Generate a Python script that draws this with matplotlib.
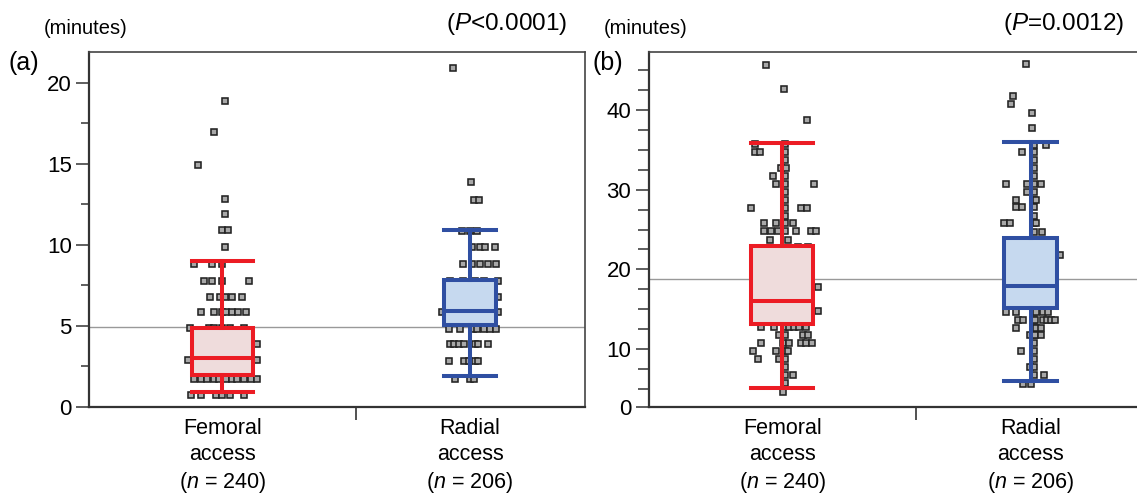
import matplotlib
matplotlib.use("Agg")
import matplotlib.pyplot as plt
from matplotlib.ticker import MultipleLocator

plt.rcParams["font.family"] = ["Liberation Sans", "DejaVu Sans"]
plt.rcParams["mathtext.fontset"] = "custom"
plt.rcParams["mathtext.rm"] = "Liberation Sans"
plt.rcParams["mathtext.it"] = "Liberation Sans:italic"

# groups, x axis is proportional to group size (JMP style)
groups = ["Femoral\naccess", "Radial\naccess"]
group_n = [240, 206]

# each row: (value, [x jitter as fraction of the group width])
a_femoral_rows = [
    (18.9, [0.01]), (16.95, [-0.03]), (14.95, [-0.09]), (12.85, [0.01]),
    (11.9, [0.01]), (10.9, [0.0, 0.02]), (9.85, [0.01]),
    (8.85, [-0.105, -0.04, 0.0]),
    (7.75, [-0.07, -0.04, 0.0, 0.1]),
    (6.8, [-0.045, -0.01, 0.01, 0.035, 0.075]),
    (5.85, [-0.08, -0.03, 0.0, 0.015, 0.035, 0.06, 0.09]),
    (4.85, [-0.12, -0.05, -0.03, 0.0, 0.03, 0.08]),
    (3.9, [-0.09, -0.03, 0.03, 0.13]),
    (2.9, [-0.13, -0.07, -0.01, 0.06, 0.13]),
    (1.75, [-0.105, -0.08, -0.056, -0.03, -0.011, 0.015, 0.037, 0.056, 0.082, 0.109, 0.131]),
    (0.75, [-0.116, -0.079, -0.022, 0.0, 0.03, 0.082]),
]
a_radial_rows = [
    (20.9, [-0.075]), (13.9, [0.005]), (12.8, [0.018, 0.04]),
    (10.85, [-0.035, 0.0, 0.03]),
    (9.85, [0.01, 0.044, 0.066, 0.109]),
    (8.85, [-0.03, 0.01, 0.044, 0.079, 0.114]),
    (7.75, [-0.088, -0.03, 0.02, 0.06, 0.12]),
    (6.8, [-0.07, 0.0, 0.05, 0.12]),
    (5.85, [-0.123, -0.05, 0.03, 0.12]),
    (4.8, [-0.093, -0.044, 0.013, 0.031, 0.06, 0.086, 0.114]),
    (3.9, [-0.088, -0.07, -0.05, -0.028, 0.022, 0.034, 0.078]),
    (2.85, [-0.093, -0.028, -0.006, 0.022, 0.034]),
    (1.7, [-0.066, -0.001, 0.017]),
]
b_femoral_rows = [
    (45.7, [-0.062]), (42.7, [0.005]), (38.7, [0.093]),
    (35.75, [-0.1, 0.011]), (34.8, [-0.1, -0.082, 0.011]), (33.75, [0.011]),
    (32.75, [-0.004, 0.015]), (31.75, [-0.033, 0.011]),
    (30.75, [-0.025, 0.011, 0.117]), (29.75, [0.011]), (28.75, [0.011]),
    (27.7, [-0.116, 0.011, 0.071, 0.093]), (26.75, [0.011]),
    (25.8, [-0.07, -0.025, 0.011, 0.042]),
    (24.8, [-0.07, -0.041, -0.016, 0.011, 0.05, 0.108, 0.127]),
    (23.7, [-0.047, 0.021]), (22.8, [0.059, 0.096]),
    (17.8, [0.133]), (14.8, [0.133]),
    (12.8, [-0.079, -0.029, 0.009, 0.027, 0.045, 0.064, 0.09]),
    (11.8, [-0.012, 0.011, 0.077, 0.096]),
    (10.7, [-0.079, 0.003, 0.027, 0.071, 0.09, 0.112]),
    (9.75, [-0.11, -0.025, 0.011, 0.021]),
    (8.75, [-0.091, -0.012, 0.009]),
    (7.8, [0.012]), (6.75, [0.011, 0.042]), (5.75, [0.011]), (4.65, [0.003]),
]
b_radial_rows = [
    (45.8, [-0.02]), (41.75, [-0.078]), (40.75, [-0.088]),
    (39.7, [0.007]), (37.8, [0.007]),
    (35.6, [0.012, 0.068]), (34.8, [-0.037, 0.012]),
    (33.75, [0.012]), (32.75, [0.012]), (31.75, [0.012]),
    (30.7, [-0.107, -0.015, 0.012, 0.043]), (29.75, [-0.015, 0.012]),
    (28.7, [-0.063, 0.012, 0.024]), (27.8, [-0.063, -0.037, 0.012]),
    (26.75, [0.012]), (25.8, [-0.117, -0.092, 0.012, 0.024]),
    (24.7, [0.012, 0.05]), (21.8, [0.128]),
    (14.7, [-0.107, -0.063, 0.012, 0.024, 0.053, 0.075]),
    (13.7, [-0.056, -0.034, 0.012, 0.017, 0.053, 0.072, 0.089, 0.107]),
    (12.7, [-0.063, 0.012, 0.024, 0.046]),
    (11.7, [-0.005, 0.012, 0.02, 0.043]),
    (10.75, [0.012]), (9.8, [-0.044, 0.012]), (8.75, [0.012]),
    (7.8, [-0.005, 0.012]), (6.75, [0.012, 0.057]), (5.6, [-0.034, 0.002]),
]

# box plot summaries: whisker low, q1, median, q3, whisker high
a_femoral_box = [0.9, 2.0, 3.0, 4.9, 9.0]
a_radial_box = [1.9, 5.05, 5.9, 7.85, 10.95]
b_femoral_box = [5.1, 13.1, 16.0, 22.9, 35.9]
b_radial_box = [6.0, 15.1, 17.9, 23.9, 36.0]

# grand mean line
a_mean = 4.95
b_mean = 18.8

RED = "#ec1c24"
RED_FILL = "#efdcdc"
BLUE = "#2f4fa2"
BLUE_FILL = "#c6d9ef"

W, H = 1137, 495
fig = plt.figure(figsize=(W / 100, H / 100), dpi=100)
ax_a = fig.add_axes([89 / W, 88 / H, 495.5 / W, 355 / H])
ax_b = fig.add_axes([648.5 / W, 88 / H, 497.1 / W, 355 / H])

edges = [0, group_n[0], group_n[0] + group_n[1]]
centers = [(edges[0] + edges[1]) / 2, (edges[1] + edges[2]) / 2]
box_w = [0.23 * n for n in group_n]


def draw_panel(ax, rows_list, boxes, mean):
    ax.axhline(mean, color="#999999", lw=1.0, zorder=1)
    for i, rows in enumerate(rows_list):
        xs, ys = [], []
        for v, jit in rows:
            for j in jit:
                xs.append(centers[i] + j * group_n[i])
                ys.append(v)
        ax.plot(xs, ys, "s", ms=4.9, mfc="#a8a8a8", mec="#222222", mew=1.15,
                ls="none", zorder=2)
    stats = []
    for b in boxes:
        stats.append(dict(whislo=b[0], q1=b[1], med=b[2], q3=b[3],
                          whishi=b[4], fliers=[]))
    art = ax.bxp(stats, positions=centers, widths=box_w, capwidths=box_w,
                 patch_artist=True, showfliers=False, zorder=3)
    cols = [(RED, RED_FILL), (BLUE, BLUE_FILL)]
    for i, (ec, fc) in enumerate(cols):
        art["boxes"][i].set(facecolor=fc, edgecolor=ec, linewidth=2.9)
        art["medians"][i].set(color=ec, linewidth=2.9)
        for k in (2 * i, 2 * i + 1):
            art["whiskers"][k].set(color=ec, linewidth=2.9)
            art["caps"][k].set(color=ec, linewidth=2.9)

    ax.set_xlim(edges[0], edges[2])
    ax.set_xticks(centers)
    ax.set_xticklabels([f"{g}\n($\\it{{n}}$ = {n})" for g, n in zip(groups, group_n)],
                       fontsize=15.5, linespacing=1.3)
    ax.tick_params(axis="x", which="major", length=0, pad=8)
    ax.set_xticks([edges[1]], minor=True)
    ax.tick_params(axis="x", which="minor", length=9, width=1.2, color="#333333")
    ax.tick_params(axis="y", which="major", length=9.5, width=1.1,
                   color="#333333", labelsize=16, pad=3)
    ax.tick_params(axis="y", which="minor", length=5.5, width=1.1, color="#333333")
    for s in ["top", "right"]:
        ax.spines[s].set(color="#444444", linewidth=1.2)
    for s in ["left", "bottom"]:
        ax.spines[s].set(color="#333333", linewidth=1.6)


draw_panel(ax_a, [a_femoral_rows, a_radial_rows], [a_femoral_box, a_radial_box], a_mean)
ax_a.set_ylim(0, 21.9)
ax_a.set_yticks([0, 5, 10, 15, 20])
ax_a.yaxis.set_minor_locator(MultipleLocator(2.5))

draw_panel(ax_b, [b_femoral_rows, b_radial_rows], [b_femoral_box, b_radial_box], b_mean)
b_bottom = 2.72
ax_b.set_ylim(b_bottom, 47.3)
ax_b.set_yticks([b_bottom, 10, 20, 30, 40])
ax_b.set_yticklabels(["0", "10", "20", "30", "40"])
ax_b.yaxis.set_minor_locator(MultipleLocator(2.5))
ax_b.tick_params(axis="y", which="minor", length=8)
ax_b.spines["right"].set_visible(False)

# annotations
fig.text(44 / W, 1 - 28 / H, "(minutes)", fontsize=14.5, va="center", ha="left")
fig.text(604 / W, 1 - 28 / H, "(minutes)", fontsize=14.5, va="center", ha="left")
fig.text(567 / W, 1 - 24 / H, "($\\it{P}$<0.0001)", fontsize=17.5, va="center", ha="right")
fig.text(1124 / W, 1 - 24 / H, "($\\it{P}$=0.0012)", fontsize=17.5, va="center", ha="right")
fig.text(9 / W, 1 - 63 / H, "(a)", fontsize=18, va="center", ha="left")
fig.text(592 / W, 1 - 63 / H, "(b)", fontsize=18, va="center", ha="left")

fig.savefig("out.png", dpi=100)
